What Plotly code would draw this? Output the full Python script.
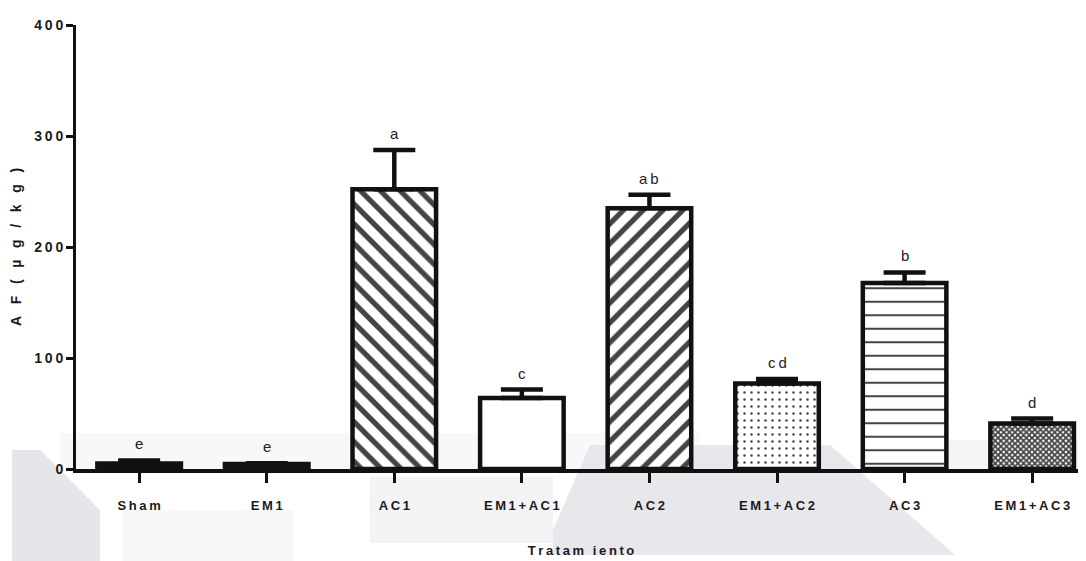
import plotly.graph_objects as go

# ---------------- data ----------------
categories = ["Sham", "EM1", "AC1", "EM1+AC1", "AC2", "EM1+AC2", "AC3", "EM1+AC3"]
means = [5.0, 4.5, 252.0, 64.0, 235.0, 77.0, 167.5, 41.0]
sem = [2.7, 0.6, 35.5, 7.6, 12.0, 4.0, 9.6, 4.4]
letters = ["e", "e", "a", "c", "ab", "cd", "b", "d"]
y_ticks = [0, 100, 200, 300, 400]

# ---------------- styling ----------------
patterns = ["", "", "\\", "", "/", ".", "-", "x"]
pat_size = [8, 8, 14, 8, 14, 7, 13.5, 4]
pat_solid = [0.3, 0.3, 0.38, 0.3, 0.38, 0.1, 0.15, 0.7]
fills = ["#111111", "#111111", "white", "white", "white", "white", "white", "white"]

THIN = "\u2009"
def spaced(s, sep=THIN):
    return sep.join(list(s))

SANS = "Liberation Sans, Arial, sans-serif"

# page has an 8px body margin, so the figure is laid out in screen coords - 8
OFF = 8
W, H = 1086 - OFF, 561 - OFF
ML, MR, MT, MB = 76 - OFF, 0, 25 - OFF, 561 - 469

fig = go.Figure()
fig.add_trace(go.Bar(
    x=list(range(len(categories))),
    y=means,
    marker=dict(
        color=fills,
        line=dict(color="#111111", width=4.5),
        pattern=dict(shape=patterns, size=pat_size, solidity=pat_solid,
                     fgcolor="#111111", bgcolor="white", fgopacity=1,
                     fillmode="overlay"),
    ),
    error_y=dict(type="data", array=sem, arrayminus=[0] * len(sem), symmetric=False,
                 color="#111111", thickness=4.5, width=21),
    width=0.655,
    showlegend=False,
    hoverinfo="skip",
))

# letter annotations
for i, (m, e, L) in enumerate(zip(means, sem, letters)):
    fig.add_annotation(x=i, y=m + e, text=spaced(L), showarrow=False,
                       yanchor="bottom", yshift=6,
                       font=dict(family=SANS, size=15, color="#222222"))

# watermark shapes (background decoration): screen pixels -> paper coords
pw, ph = W - ML - MR, H - MT - MB
def px(x):
    return (x - OFF - ML) / pw
def py(y):
    return (H - MB - (y - OFF)) / ph
def poly(pts, color):
    d = "M " + " L ".join(f"{px(a):.4f},{py(b):.4f}" for a, b in pts) + " Z"
    fig.add_shape(type="path", path=d, xref="paper", yref="paper",
                  fillcolor=color, line=dict(width=0), layer="below")

poly([(60, 433), (700, 433), (700, 470), (60, 470)], "#f8f8fa")
poly([(123, 510), (293, 510), (293, 561), (123, 561)], "#f7f7f9")
poly([(370, 477), (553, 477), (553, 543), (370, 543)], "#f3f3f6")
poly([(12, 450), (40, 450), (100, 510), (100, 561), (12, 561)], "#e6e6ea")
poly([(590, 445), (830, 445), (955, 555), (553, 555), (553, 530)], "#e7e7ec")
poly([(870, 440), (1086, 440), (1086, 470), (870, 470)], "#f5f5f7")

fig.update_layout(
    width=W, height=H,
    margin=dict(l=ML, r=MR, t=MT, b=MB, autoexpand=False),
    plot_bgcolor="rgba(0,0,0,0)", paper_bgcolor="white",
    bargap=0.345,
    xaxis=dict(
        range=[-0.495, 7.422],
        tickvals=list(range(len(categories))),
        ticktext=[spaced(c) for c in categories],
        showline=True, linecolor="#111111", linewidth=4,
        ticks="outside", ticklen=10, tickwidth=3, tickcolor="#111111",
        ticklabelstandoff=11,
        showgrid=False, zeroline=False,
        tickfont=dict(family=SANS, size=13, color="#1a1a1a", weight=700),
        title=dict(text=spaced("Tratam iento"), standoff=35,
                   font=dict(family=SANS, size=13, color="#1a1a1a", weight=700)),
    ),
    yaxis=dict(
        range=[0, 400],
        tickvals=y_ticks,
        ticktext=[spaced(str(v)) for v in y_ticks],
        showline=True, linecolor="#111111", linewidth=3,
        ticks="outside", ticklen=7, tickwidth=3, tickcolor="#111111",
        showgrid=False, zeroline=False,
        tickfont=dict(family=SANS, size=14, color="#1a1a1a", weight=700),
        title=dict(text=spaced("AF(\u00b5g/kg)", "\u2002\u2004"), standoff=12,
                   font=dict(family=SANS, size=14, color="#1a1a1a", weight=700)),
    ),
)

fig.write_html("out.html")
